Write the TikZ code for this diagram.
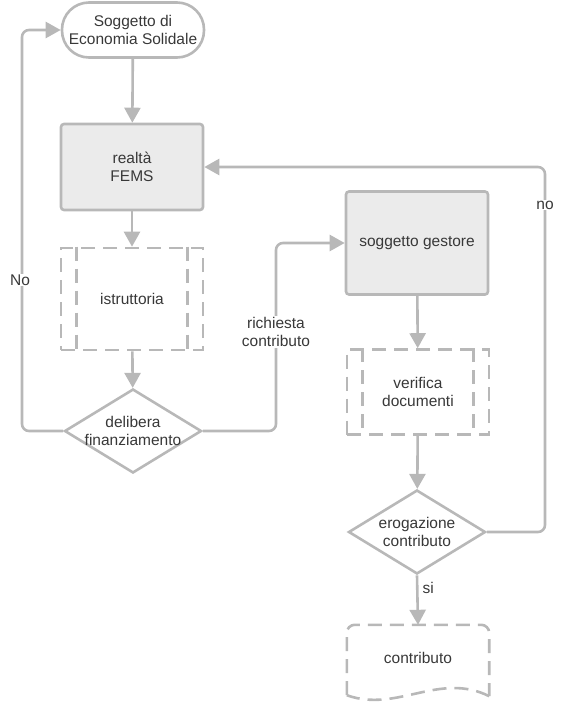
\documentclass[tikz,border=0pt]{standalone}
\usepackage{fontspec}
\setmainfont{Liberation Sans}
\usetikzlibrary{arrows.meta, shapes.geometric}
\colorlet{flowline}{black!28}
\colorlet{flowfill}{black!8}
\colorlet{flowtext}{black!78}

\tikzset{
  txt/.style={text=flowtext, align=center, font=\fontsize{15.5}{18}\selectfont},
  terminal/.style={txt, draw=flowline, line width=2.6pt, rounded corners=27pt, minimum width=142pt, minimum height=55pt},
  procbox/.style={txt, draw=flowline, line width=2.6pt, fill=flowfill, rounded corners=3pt, minimum width=142pt},
  predef/.style={txt, draw=flowline, line width=2.6pt, dash pattern=on 14pt off 8pt, minimum width=142pt},
  inner/.style={draw=flowline, line width=2.6pt, dash pattern=on 14pt off 8pt},
  decision/.style={shape=diamond, draw=flowline, line width=2.6pt, inner sep=0pt, minimum width=137pt, minimum height=84pt},
  flow/.style={draw=flowline, line width=2.6pt, ->, rounded corners=7pt},
  flowlabel/.style={txt, fill=white, inner sep=1pt}
}

\begin{document}
\begin{tikzpicture}[x=1pt, y=-1pt, >={Triangle[length=15pt, width=16pt]}]
    \useasboundingbox (0,0) rectangle (562,710);

    % Left column
    \node[terminal] (soggetto) at (133,30) {Soggetto di\\Economia Solidale};
    \node[procbox, minimum height=86pt] (fems) at (132,167) {realtà\\FEMS};
    \node[predef, minimum height=102pt] (istruttoria) at (132,299) {istruttoria};
    \draw[inner] ([xshift=17pt]istruttoria.north west) -- ([xshift=17pt]istruttoria.south west);
    \draw[inner] ([xshift=-17pt]istruttoria.north east) -- ([xshift=-17pt]istruttoria.south east);
    \node[decision, label={[txt]center:delibera\\finanziamento}] (delibera) at (133,431) {};

    % Right column
    \node[procbox, minimum height=103pt] (gestore) at (417,243) {soggetto gestore};
    \node[predef, minimum height=85pt] (verifica) at (418,392) {verifica\\documenti};
    \draw[inner] ([xshift=17pt]verifica.north west) -- ([xshift=17pt]verifica.south west);
    \draw[inner] ([xshift=-17pt]verifica.north east) -- ([xshift=-17pt]verifica.south east);
    \node[decision, label={[txt]center:erogazione\\contributo}] (erogazione) at (417,532) {};
    \node[txt, minimum width=142pt, minimum height=66pt] (contributo) at (418,658) {contributo};
    \draw[inner, rounded corners=8pt] ([yshift=-4pt]contributo.south west) -- (contributo.north west)
        -- (contributo.north east) -- ([yshift=-5pt]contributo.south east);
    \draw[inner] ([yshift=-5pt]contributo.south east)
        .. controls ([shift={(-50pt,20pt)}]contributo.south east) and ([shift={(50pt,-22pt)}]contributo.south west)
        .. ([yshift=-4pt]contributo.south west);

    % Connectors
    \draw[flow] (soggetto) -- (fems);
    \draw[flow] (fems) -- (istruttoria);
    \draw[flow] (istruttoria) -- (delibera);
    \draw[flow] (delibera.west) -- (22,431) |- (soggetto.west);
    \draw[flow] (delibera.east) -- (276,431) |- (gestore.west);
    \draw[flow] (gestore) -- (verifica);
    \draw[flow] (verifica) -- (erogazione);
    \draw[flow] (erogazione.east) -- (545,532) |- (fems.east);
    \draw[flow] (erogazione.south) -- (contributo.north);

    % Labels
    \node[flowlabel] (lno) at (20,280) {No};
    \node[flowlabel] (lrichiesta) at (276,332) {richiesta\\contributo};
    \node[flowlabel] (lnob) at (545,205) {no};
    \node[txt, anchor=west] (lsi) at (419,588) {si};
\end{tikzpicture}
\end{document}
